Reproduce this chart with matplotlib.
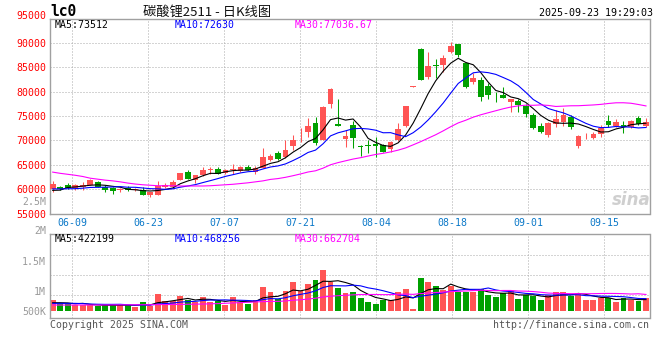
import matplotlib
matplotlib.use("Agg")
import matplotlib.pyplot as plt
import matplotlib.transforms as mtransforms
import numpy as np
import pandas as pd

# ------------------------------
# data
# ------------------------------
dates = pd.bdate_range("2025-06-04", periods=80)

open_ = [60100, 60500, 60950, 60250, 60450, 60850, 61500, 60350, 60200, 59750,
         60150, 59750, 59800, 58700, 58900, 60400, 60350, 61900, 63600, 61950,
         62850, 63900, 64150, 63300, 63900, 63700, 64650, 63550, 64400, 66000,
         67500, 66550, 68950, 71250, 71800, 73600, 70100, 77500, 73350, 70250,
         73150, 68850, 69150, 69250, 69100, 68250, 70050, 72900, 81050, 88850,
         83050, 85450, 85550, 88150, 89750, 85900, 81950, 82500, 81150, 79150,
         79300, 77900, 78050, 77100, 75200, 72950, 71150, 73450, 73750, 74850,
         68900, 70850, 70600, 71350, 74000, 72900, 73150, 72700, 74600, 72900]
high = [61750, 60700, 61300, 61100, 61450, 62150, 61700, 60800, 60400, 60150,
        60600, 60150, 60350, 59500, 61750, 61250, 61950, 63350, 63900, 63000,
        64450, 64500, 64550, 64100, 65200, 64800, 65000, 64800, 68450, 67250,
        67800, 70100, 71100, 72500, 74550, 74800, 77100, 80700, 78550, 72150,
        74000, 69100, 70100, 70800, 69300, 69900, 73500, 77150, 81100, 88900,
        88150, 86800, 87500, 90200, 89750, 86000, 83950, 83050, 81700, 80000,
        81000, 78550, 78600, 77450, 75550, 73500, 73700, 76150, 76750, 75200,
        71150, 71500, 71700, 73250, 75200, 74350, 74000, 74200, 75000, 74650]
low = [59350, 59850, 60000, 59900, 59750, 60750, 60350, 59500, 58950, 59500,
       59600, 59550, 58700, 58300, 58900, 60200, 60300, 61850, 62050, 61300,
       62800, 63150, 63100, 63100, 63150, 63550, 63850, 63150, 64300, 65700,
       66000, 66400, 68050, 69750, 70800, 69000, 70000, 76650, 72900, 68750,
       68550, 66750, 67400, 66700, 67550, 67700, 69900, 72750, 81050, 82400,
       82550, 82850, 84100, 87900, 87100, 80850, 81500, 78150, 78500, 77950,
       78700, 75800, 75850, 74900, 72300, 71600, 70800, 72700, 72900, 72300,
       68450, 70250, 70300, 70700, 72800, 72800, 71600, 72600, 73200, 72800]
close = [61100, 60050, 60300, 60750, 60950, 61950, 60500, 59800, 59700, 60050,
         59800, 60000, 58900, 59350, 60550, 60900, 61500, 63300, 62150, 62850,
         63950, 64000, 63150, 63850, 64050, 64500, 63950, 64400, 66700, 66900,
         66200, 68050, 70100, 71400, 73050, 69450, 76850, 80650, 73050, 70900,
         70600, 68650, 68950, 68950, 67700, 69650, 72300, 77050, 81100, 82500,
         85250, 85300, 87000, 89300, 87500, 81000, 82900, 79000, 79400, 79050,
         78750, 78450, 77250, 75500, 72650, 71800, 73600, 74400, 75150, 72850,
         70900, 70950, 71400, 72550, 73150, 73750, 72700, 74000, 73450, 73750]

ma5 = [59750, 59800, 60350, 60450, 60630, 60800, 60890, 60790, 60580, 60400,
       59970, 59870, 59690, 59620, 59720, 59940, 60240, 61120, 61680, 62140,
       62750, 63250, 63220, 63560, 63800, 63910, 63900, 64150, 64720, 65290,
       65630, 66450, 67590, 68530, 69760, 70410, 72170, 74280, 74610, 74180,
       74410, 72770, 70430, 69610, 68970, 68780, 69510, 71130, 73560, 76520,
       79640, 82240, 84230, 85870, 86870, 86020, 85540, 83940, 81960, 80270,
       79820, 78930, 78580, 77800, 76520, 75130, 74160, 73590, 73520, 73560,
       73380, 72850, 72250, 71730, 71790, 72360, 72710, 73230, 73410, 73530]
ma10 = [60050, 60050, 60080, 60100, 60200, 60350, 60380, 60400, 60450, 60520,
        60390, 60380, 60240, 60100, 60060, 59960, 60060, 60410, 60650, 60930,
        61350, 61750, 62170, 62620, 62970, 63330, 63580, 63690, 64140, 64550,
        64770, 65180, 65870, 66630, 67530, 68020, 69310, 70940, 71570, 71970,
        72410, 72470, 72360, 72110, 71580, 71600, 71140, 70780, 71590, 72750,
        74210, 75880, 77680, 79720, 81700, 82830, 83890, 84090, 83920, 83570,
        82920, 82240, 81260, 79880, 78400, 77480, 76550, 76090, 75660, 75040,
        74260, 73510, 72920, 72630, 72680, 72870, 72780, 72740, 72570, 72660]
ma30 = [63500, 63250, 63050, 62850, 62600, 62250, 62050, 61850, 61700, 61500,
        61250, 61050, 60900, 60800, 60700, 60700, 60700, 60650, 60650, 60650,
        60650, 60700, 60800, 60900, 61000, 61150, 61300, 61500, 61700, 62000,
        62170, 62430, 62760, 63120, 63520, 63770, 64310, 65010, 65450, 65820,
        66180, 66460, 66800, 67120, 67360, 67650, 68010, 68470, 69100, 69750,
        70460, 71170, 71970, 72820, 73600, 74150, 74780, 75270, 75690, 76100,
        76510, 76860, 77100, 77240, 77220, 77300, 77190, 76980, 77050, 77120,
        77130, 77210, 77290, 77410, 77590, 77730, 77740, 77640, 77380, 77090]

# volume in thousands
volume_k = [481, 332, 332, 257, 257, 242, 212, 257, 257, 257,
            257, 182, 406, 212, 752, 436, 436, 662, 481, 392,
            617, 392, 436, 257, 617, 406, 317, 481, 1067, 857,
            512, 902, 1307, 886, 1217, 1382, 1832, 1277, 1037, 812,
            857, 587, 407, 317, 482, 482, 857, 962, 92, 1487,
            1307, 1127, 932, 1127, 857, 857, 857, 962, 707, 617,
            782, 902, 542, 707, 662, 482, 707, 857, 857, 662,
            812, 482, 482, 557, 587, 407, 587, 482, 437, 587]
vol_ma5_k = [360, 360, 350, 310, 332, 284, 260, 245, 245, 245,
             248, 242, 272, 263, 362, 398, 448, 500, 553, 481,
             518, 509, 464, 419, 464, 422, 407, 416, 578, 626,
             647, 764, 929, 893, 965, 1139, 1325, 1319, 1349, 1268,
             1163, 914, 740, 596, 530, 455, 509, 620, 575, 776,
             941, 995, 989, 1196, 1070, 980, 926, 932, 848, 800,
             785, 794, 710, 710, 719, 659, 620, 683, 713, 713,
             779, 734, 659, 599, 584, 503, 524, 524, 500, 500]
vol_ma10_k = [330, 330, 330, 330, 320, 300, 290, 285, 285, 288,
              266, 251, 258, 254, 303, 323, 345, 386, 408, 422,
              458, 479, 482, 486, 473, 470, 458, 440, 498, 545,
              534, 585, 672, 735, 795, 893, 1044, 1124, 1121, 1116,
              1151, 1119, 1029, 973, 899, 809, 712, 680, 586, 653,
              698, 752, 805, 886, 923, 961, 961, 961, 1022, 935,
              883, 860, 821, 779, 760, 722, 707, 697, 712, 716,
              719, 677, 671, 656, 649, 641, 629, 592, 550, 542]
vol_ma30_k = [255, 255, 255, 255, 256, 256, 257, 258, 260, 262,
              264, 266, 268, 270, 273, 276, 280, 285, 290, 295,
              300, 310, 320, 335, 350, 365, 380, 395, 408, 418,
              419, 438, 471, 492, 524, 562, 616, 650, 676, 694,
              714, 728, 728, 731, 722, 724, 738, 748, 735, 771,
              794, 819, 835, 864, 872, 887, 905, 921, 909, 901,
              910, 910, 885, 879, 861, 831, 793, 779, 773, 768,
              767, 763, 766, 774, 777, 775, 766, 750, 761, 731]

price_ticks = list(range(55000, 95001, 5000))
vol_labels = ["2.5M", "2M", "1.5M", "1M", "500K"]

# ------------------------------
# style
# ------------------------------
W, H = 660, 360
RED = "#ff5454"
GREEN = "#00a000"
GRID = "#aaaaaa"
FRAME = "#a0a0a0"
MONO = "DejaVu Sans Mono"
FS = 7.1


def px(x, y):
    return x / W, 1 - y / H


fig = plt.figure(figsize=(W / 100, H / 100), dpi=100)
ax = fig.add_axes([50.5 / W, 1 - 213.5 / H, 599 / W, 194.8 / H])
axv = fig.add_axes([50.5 / W, 1 - 318.3 / H, 599 / W, 84 / H])

x = np.arange(len(close))
o = np.array(open_)
c = np.array(close)
colors = np.where(c >= o, RED, GREEN)
xlim = (-0.29, 79.47)
grid_pos = 2.61 + 10.124 * np.arange(8)
dot = dict(color=GRID, lw=0.72, ls=(0, (1, 2)), zorder=0)

for a in (ax, axv):
    a.set_xlim(*xlim)
    a.set_xticks([])
    a.set_yticks([])
    for s in a.spines.values():
        s.set_color(FRAME)
        s.set_linewidth(1.0)
    for p in grid_pos:
        a.axvline(p, **dot)

# ------------------------------
# candles
# ------------------------------
ax.set_ylim(55000, 95000)
for v in price_ticks[1:-1]:
    ax.axhline(v, **dot)

ax.vlines(x, low, high, colors=colors, lw=0.75, zorder=2)
body_lo = np.minimum(o, c)
body_h = np.maximum(np.abs(c - o), 160)
ax.bar(x, body_h, width=0.76, bottom=body_lo, color=colors, linewidth=0, zorder=3)

ax.plot(x, ma5, color="black", lw=0.8, zorder=4)
ax.plot(x, ma10, color="#0000ff", lw=0.8, zorder=4)
ax.plot(x, ma30, color="#ff00ff", lw=0.8, zorder=4)

ytrans = mtransforms.blended_transform_factory(ax.transAxes, ax.transData)
for v in price_ticks:
    ax.text(-4.5 / 599, v, str(v), transform=ytrans, ha="right",
            va="baseline" if v == 95000 else "center_baseline",
            color="#ff0000", family=MONO, fontsize=FS, clip_on=False)

xtrans = mtransforms.blended_transform_factory(ax.transData, ax.transAxes)
for p in grid_pos:
    ax.text(p, -8.2 / 194.8, dates[int(round(p))].strftime("%m-%d"),
            transform=xtrans, ha="center", va="center_baseline",
            color="#0b78c8", family=MONO, fontsize=FS, clip_on=False)

# sina watermark
ax.text(0.97, 0.07, "sina", transform=ax.transAxes, ha="center", va="center",
        fontsize=12, fontweight="bold", fontstyle="italic", color="#cfcfcf",
        zorder=1)

# ------------------------------
# volume
# ------------------------------
vol = np.array(volume_k) * 1000
axv.set_ylim(-342e3, 3.438e6)
for f in (0.754, 0.516, 0.278):
    axv.axhline(-342e3 + f * (3.438e6 + 342e3), **dot)
axv.bar(x, vol, width=0.78, color=colors, linewidth=0, zorder=2)
axv.plot(x, np.array(vol_ma5_k) * 1000, color="black", lw=0.8, zorder=4)
axv.plot(x, np.array(vol_ma10_k) * 1000, color="#0000ff", lw=0.8, zorder=4)
axv.plot(x, np.array(vol_ma30_k) * 1000, color="#ff00ff", lw=0.8, zorder=4)

for lab, yp in zip(vol_labels, [200.7, 230, 260.7, 290.7, 310.7]):
    fig.text(*px(46, yp), lab, ha="right", va="center_baseline",
             color="#999999", family=MONO, fontsize=FS)

# ------------------------------
# header / footer texts
# ------------------------------
fig.text(*px(50.5, 15.5), "lc0", ha="left", va="baseline", family=MONO,
         fontsize=10.5, fontweight="bold", color="black")
fig.text(*px(207, 15.5), "碳酸锂2511 - 日K线图", ha="center", va="baseline",
         family=["Noto Sans CJK SC", "DejaVu Sans"], fontsize=9.5, color="#111111")
fig.text(*px(653, 15.5), "2025-09-23 19:29:03", ha="right", va="baseline",
         family=MONO, fontsize=FS + 0.1, color="black")

for txt, xp, col in [("MA5:73512", 55, "black"), ("MA10:72630", 175, "#0000ff"),
                     ("MA30:77036.67", 295, "#ff00ff")]:
    fig.text(*px(xp, 24), txt, ha="left", va="center_baseline", family=MONO,
             fontsize=FS, color=col)
for txt, xp, col in [("MA5:422199", 55, "black"), ("MA10:468256", 175, "#0000ff"),
                     ("MA30:662704", 295, "#ff00ff")]:
    fig.text(*px(xp, 238.5), txt, ha="left", va="center_baseline", family=MONO,
             fontsize=FS, color=col)

fig.text(*px(50, 324), "Copyright 2025 SINA.COM", ha="left", va="center_baseline",
         family=MONO, fontsize=FS, color="#555555")
fig.text(*px(649.5, 324), "http://finance.sina.com.cn", ha="right",
         va="center_baseline", family=MONO, fontsize=FS, color="#555555")

fig.savefig("out.png", dpi=100)
